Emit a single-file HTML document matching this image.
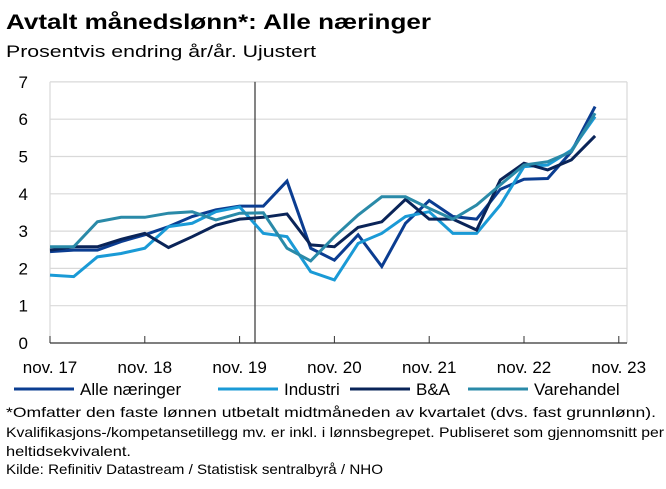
<!DOCTYPE html>
<html><head><meta charset="utf-8"><style>
body{margin:0;width:666px;height:484px;background:#fff;font-family:"Liberation Sans",sans-serif;overflow:hidden}
svg text{font-family:"Liberation Sans",sans-serif}
</style></head><body>
<svg width="666" height="484">
<text x="6" y="29" font-size="21" font-weight="bold" fill="#000" textLength="425" lengthAdjust="spacingAndGlyphs">Avtalt månedslønn*: Alle næringer</text>
<text x="6" y="57" font-size="17" fill="#000" textLength="310" lengthAdjust="spacingAndGlyphs">Prosentvis endring år/år. Ujustert</text>
<g id="grid"></g><g id="axes"></g><g id="series"></g><g id="legend"></g>
<text x="6" y="417" font-size="14" textLength="650" lengthAdjust="spacingAndGlyphs">*Omfatter den faste lønnen utbetalt midtmåneden av kvartalet (dvs. fast grunnlønn).</text>
<text x="6" y="437" font-size="14" textLength="658" lengthAdjust="spacingAndGlyphs">Kvalifikasjons-/kompetansetillegg mv. er inkl. i lønnsbegrepet. Publiseret som gjennomsnitt per</text>
<text x="6" y="456" font-size="14" textLength="125" lengthAdjust="spacingAndGlyphs">heltidsekvivalent.</text>
<text x="6" y="474" font-size="14" textLength="377" lengthAdjust="spacingAndGlyphs">Kilde: Refinitiv Datastream / Statistisk sentralbyrå / NHO</text>
</svg>
<script>
const xLabels=["nov. 17","nov. 18","nov. 19","nov. 20","nov. 21","nov. 22","nov. 23"];
const yTicks=[0,1,2,3,4,5,6,7];
const seriesNames=["Alle næringer","Industri","B&A","Varehandel"];
const alle=[2.45,2.49,2.49,2.72,2.9,3.12,3.39,3.57,3.67,3.67,4.34,2.54,2.22,2.9,2.05,3.21,3.82,3.39,3.32,4.12,4.39,4.41,5.13,6.34];
const industri=[1.82,1.78,2.31,2.4,2.54,3.12,3.21,3.52,3.65,2.94,2.85,1.91,1.69,2.67,2.94,3.39,3.52,2.94,2.94,3.7,4.73,4.77,5.17,6.07];
const ba=[2.49,2.58,2.58,2.78,2.94,2.56,2.85,3.16,3.32,3.37,3.46,2.63,2.58,3.1,3.25,3.85,3.32,3.32,3.03,4.37,4.82,4.64,4.91,5.55];
const vare=[2.58,2.58,3.25,3.37,3.37,3.48,3.52,3.3,3.48,3.49,2.54,2.2,2.85,3.43,3.92,3.92,3.61,3.32,3.7,4.24,4.77,4.86,5.13,6.16];
const colors=["#0b3d91","#1a9ad6","#0a2458","#2a8aa8"];
const NS="http://www.w3.org/2000/svg";
const X0=50,X1=627,Y0=343,YS=37.3,QW=23.7;
const xq=i=>X0+QW*i, yv=v=>Y0-YS*v;
function mk(t,a,p){const e=document.createElementNS(NS,t);for(const k in a)e.setAttribute(k,a[k]);p.appendChild(e);return e;}
const grid=document.getElementById('grid'),axes=document.getElementById('axes'),ser=document.getElementById('series'),leg=document.getElementById('legend');
yTicks.forEach(v=>{
 if(v>0){const l=mk('line',{x1:X0,x2:X1,y1:yv(v),y2:yv(v),stroke:'#d9d9d9','stroke-width':1.2},grid);
 
 }
 const t=mk('text',{x:28,y:yv(v)+6,'font-size':17,'text-anchor':'end'},axes);t.textContent=v;
 
 
});
mk('line',{x1:X1,x2:X1,y1:yv(7),y2:Y0,stroke:'#d9d9d9','stroke-width':1.2},grid);
mk('line',{x1:X0,x2:X0,y1:yv(7),y2:Y0,stroke:'#d9d9d9','stroke-width':1.2},grid);
const xa=mk('line',{x1:X0,x2:X1,y1:Y0,y2:Y0,stroke:'#333','stroke-width':1.2},axes);


xLabels.forEach((s,i)=>{
 const x=X0+i*4*QW;
 mk('line',{x1:x,x2:x,y1:Y0-7,y2:Y0,stroke:'#333'},axes);
 const t=mk('text',{x:x,y:Y0+30,'font-size':17,'text-anchor':'middle'},axes);t.textContent=s;
 
 
});
const vl=mk('line',{x1:255,x2:255,y1:yv(7),y2:Y0,stroke:'#333','stroke-width':1.2},axes);


[alle,industri,ba,vare].forEach((arr,k)=>{
 const p=mk('polyline',{points:arr.map((v,i)=>xq(i)+','+yv(v)).join(' '),fill:'none',stroke:colors[k],'stroke-width':3,'stroke-linejoin':'miter'},ser);
 
 
});
const lx=[14,218,350,468];
seriesNames.forEach((n,k)=>{
 const g=mk('g',{},leg);
 
 
 mk('line',{x1:lx[k],x2:lx[k]+60,y1:389,y2:389,stroke:colors[k],'stroke-width':3},g);
 const t=mk('text',{x:lx[k]+66,y:395,'font-size':17},g);t.textContent=n;
});
</script>
</body></html>
